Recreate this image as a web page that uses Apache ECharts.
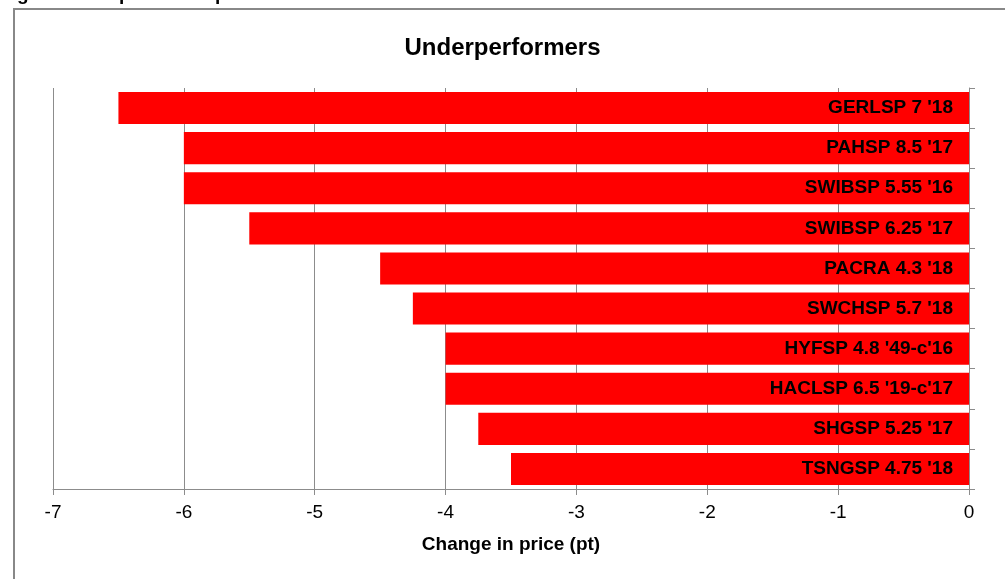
<!DOCTYPE html>
<html>
<head>
<meta charset="utf-8">
<script src="https://cdn.jsdelivr.net/npm/echarts@6/dist/echarts.min.js"></script>
<style>
  html, body { margin: 0; padding: 0; background: #fff; }
  #chart { width: 1005px; height: 579px; }
</style>
</head>
<body>
<div id="chart"></div>
<script>
  const bonds = ['GERLSP 7 \'18', 'PAHSP 8.5 \'17', 'SWIBSP 5.55 \'16', 'SWIBSP 6.25 \'17', 'PACRA 4.3 \'18',
    'SWCHSP 5.7 \'18', 'HYFSP 4.8 \'49-c\'16', 'HACLSP 6.5 \'19-c\'17', 'SHGSP 5.25 \'17', 'TSNGSP 4.75 \'18']
  const priceChange = [-6.5, -6, -6, -5.5, -4.5, -4.25, -4, -4, -3.75, -3.5]
  const xTicks = [-7, -6, -5, -4, -3, -2, -1, 0]

  const font = '"Liberation Sans", Arial, sans-serif'
  const chart = echarts.init(document.getElementById('chart'))

  const option = {
    animation: false,
    textStyle: { fontFamily: font },
    title: {
      text: 'Underperformers',
      left: 'center',
      top: 31,
      textStyle: { fontSize: 24, fontWeight: 'bold', color: '#000', fontFamily: font }
    },
    graphic: [
      {
        type: 'rect',
        shape: { x: 14, y: 9, width: 1100, height: 700 },
        style: { fill: 'none', stroke: '#888', lineWidth: 2 }
      },
      {
        type: 'text',
        left: 0,
        top: -15,
        style: {
          text: 'Figure 8b: Top 10 underperformers from the 2014 new issues',
          font: 'bold 19px ' + font,
          fill: '#000'
        }
      }
    ],
    grid: { left: 53, right: 36, top: 88, bottom: 90 },
    xAxis: {
      type: 'value',
      min: xTicks[0],
      max: xTicks[xTicks.length - 1],
      interval: 1,
      name: 'Change in price (pt)',
      nameLocation: 'middle',
      nameGap: 46,
      nameTextStyle: { fontSize: 19, fontWeight: 'bold', color: '#000', fontFamily: font },
      axisLine: { show: true, lineStyle: { color: '#8c8c8c', width: 1 } },
      axisTick: { show: true, length: 6, lineStyle: { color: '#8c8c8c' } },
      axisLabel: { fontSize: 19, color: '#000', margin: 14, fontFamily: font },
      splitLine: { show: true, lineStyle: { color: '#8c8c8c', width: 1 } }
    },
    yAxis: {
      type: 'category',
      data: bonds,
      inverse: true,
      position: 'right',
      axisLine: { show: true, onZero: false, lineStyle: { color: '#8c8c8c', width: 1 } },
      axisTick: { show: true, length: 6, inside: false, lineStyle: { color: '#8c8c8c' } },
      axisLabel: { show: false },
      splitLine: { show: false }
    },
    series: [{
      type: 'bar',
      data: priceChange,
      barCategoryGap: '20%',
      itemStyle: { color: '#ff0000' },
      label: {
        show: true,
        position: 'insideRight',
        distance: 16,
        formatter: p => bonds[p.dataIndex],
        fontSize: 19,
        fontWeight: 'bold',
        color: '#000',
        fontFamily: font
      }
    }]
  }
  chart.setOption(option)
</script>
</body>
</html>
